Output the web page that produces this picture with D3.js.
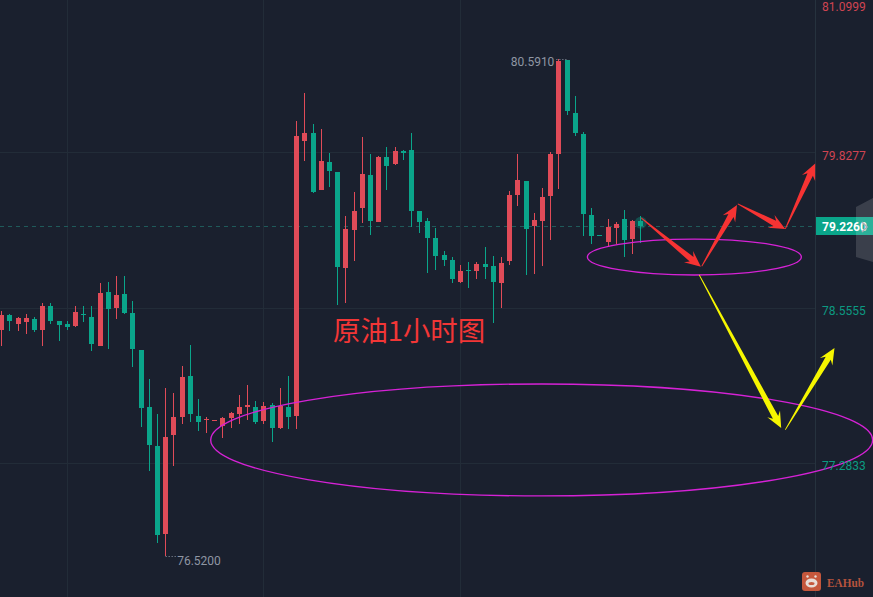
<!DOCTYPE html>
<html><head><meta charset="utf-8">
<script src="https://cdn.jsdelivr.net/npm/d3@7"></script>
<style>html,body{margin:0;padding:0;background:#1a202e;overflow:hidden}svg{display:block}</style>
</head><body><svg id="c" width="873" height="597"></svg>
<script>
const opens=[78.373,78.495,78.422,78.438,78.463,78.373,78.569,78.446,78.422,78.405,78.504,78.479,78.242,78.684,78.553,78.667,78.512,78.209,77.742,77.423,76.702,77.513,77.660,77.996,77.668,77.635,77.627,77.586,77.652,77.685,77.742,77.742,77.627,77.758,77.570,77.742,77.668,79.920,79.986,79.519,79.748,79.667,78.880,79.191,79.372,79.642,79.257,79.789,79.732,79.839,79.847,79.347,79.265,79.126,78.987,78.946,78.766,78.864,78.855,78.912,78.896,78.757,78.937,79.478,79.592,79.224,79.265,79.469,79.813,80.583,80.149,79.977,79.314,79.150,79.093,79.207,79.281,79.117,79.265];
const highs=[78.528,78.504,78.479,78.504,78.479,78.594,78.594,78.446,78.446,78.569,78.569,78.569,78.758,78.766,78.815,78.815,78.610,78.209,77.971,77.685,77.898,77.857,78.078,78.250,77.807,77.660,77.635,77.660,77.701,77.840,77.922,77.791,77.783,77.775,77.898,77.996,80.084,80.314,80.060,80.019,79.822,79.667,79.306,79.503,79.953,79.814,79.798,79.871,79.871,79.847,79.986,79.347,79.290,79.208,79.020,78.970,78.905,78.929,78.929,79.052,78.978,78.970,79.510,79.813,79.592,79.330,79.535,79.830,80.591,80.583,80.288,79.994,79.371,79.150,79.281,79.256,79.355,79.273,79.306];
const lows=[78.242,78.364,78.364,78.340,78.356,78.242,78.422,78.283,78.373,78.397,78.438,78.201,78.242,78.217,78.463,78.504,78.070,77.578,77.218,76.628,76.520,77.259,77.603,77.619,77.545,77.529,77.627,77.488,77.570,77.603,77.635,77.603,77.603,77.455,77.562,77.562,77.562,79.757,79.495,79.519,79.544,78.577,78.594,78.938,79.249,79.151,79.257,79.519,79.724,79.765,79.216,79.167,78.839,78.864,78.897,78.757,78.757,78.716,78.790,78.790,78.430,78.552,78.904,79.387,78.822,78.831,78.896,79.109,79.527,80.133,79.961,79.142,79.076,79.142,79.060,79.076,78.970,78.994,79.084];
const closes=[78.495,78.446,78.471,78.471,78.373,78.569,78.446,78.414,78.397,78.520,78.495,78.258,78.676,78.545,78.659,78.512,78.217,77.734,77.431,76.694,77.496,77.660,77.988,77.685,77.619,77.644,77.635,77.652,77.693,77.742,77.758,77.619,77.750,77.570,77.750,77.660,79.961,79.986,79.503,79.757,79.675,78.888,79.200,79.347,79.650,79.265,79.789,79.716,79.839,79.822,79.347,79.257,79.126,78.979,78.946,78.790,78.856,78.856,78.912,78.888,78.765,78.921,79.478,79.600,79.199,79.273,79.461,79.813,80.575,80.166,79.985,79.322,79.142,79.142,79.215,79.240,79.109,79.265,79.226];

const priceTicks=[81.0999,79.8277,78.5555,77.2833];
const lastPrice=79.2260;
const maxLabel=80.5910, maxIndex=68;
const minLabel=76.5200, minIndex=20;
const timeGridIndex=[8,32,56];
const titleText="原油1小时图";
const brandText="EAHub";

// annotation drawings, in [candle index, price]
const redArrows=[
 [[78.1,79.290],[85.4,78.890]],
 [[85.5,78.895],[89.8,79.396]],
 [[89.9,79.405],[95.7,79.200]],
 [[95.7,79.200],[99.35,79.735]]
];
const yellowArrows=[
 [[85.2,78.823],[95.2,77.570]],
 [[95.7,77.555],[101.7,78.225]]
];
const ellipses=[
 {cx:84.6,cy:78.970,rx:13.06,ry:0.147},
 {cx:65.96,cy:77.472,rx:40.4,ry:0.4585}
];

const W=873,H=597,axisX=815;
const red="#e04b58",green="#0aa58a";
const x=d3.scaleLinear().domain([0,78]).range([1.3,640.3]);
const y=d3.scaleLinear().domain([81.0999,77.2833]).range([-3.1,463]);
const svg=d3.select("#c");
svg.append("rect").attr("width",W).attr("height",H).attr("fill","#1a202e");

// grid
const grid=svg.append("g").attr("stroke","#222c38").attr("stroke-width",1);
grid.selectAll("line.h").data(priceTicks).join("line").attr("class","h")
 .attr("x1",0).attr("x2",axisX).attr("y1",d=>Math.round(y(d))+.5).attr("y2",d=>Math.round(y(d))+.5);
grid.selectAll("line.v").data(timeGridIndex).join("line").attr("class","v")
 .attr("x1",d=>Math.round(x(d))+.5).attr("x2",d=>Math.round(x(d))+.5).attr("y1",0).attr("y2",H);
svg.append("line").attr("x1",axisX+.5).attr("x2",axisX+.5).attr("y1",0).attr("y2",H).attr("stroke","#26323e");

// last-price dashed line
svg.append("line").attr("x1",0).attr("x2",axisX).attr("y1",Math.round(y(lastPrice))+.5).attr("y2",Math.round(y(lastPrice))+.5)
 .attr("stroke","#1f5a5a").attr("stroke-width",1).attr("stroke-dasharray","4 4");

// candles
const idx=d3.range(opens.length);
const col=i=>closes[i]>=opens[i]?red:green;
const cg=svg.append("g").attr("shape-rendering","crispEdges");
cg.selectAll("rect.w").data(idx).join("rect").attr("class","w")
 .attr("x",i=>Math.round(x(i))).attr("width",1)
 .attr("y",i=>Math.round(y(highs[i]))).attr("height",i=>Math.max(1,Math.round(y(lows[i]))-Math.round(y(highs[i]))))
 .attr("fill",col);
cg.selectAll("rect.b").data(idx).join("rect").attr("class","b")
 .attr("x",i=>Math.round(x(i))-2).attr("width",5)
 .attr("y",i=>Math.round(y(Math.max(opens[i],closes[i]))))
 .attr("height",i=>Math.max(1,Math.round(y(Math.min(opens[i],closes[i])))-Math.round(y(Math.max(opens[i],closes[i])))))
 .attr("fill",col);
svg.append("circle").attr("cx",x(78)+.5).attr("cy",y(79.250)).attr("r",6).attr("fill",green).attr("opacity",.35);

// max / min labels
const lbl=svg.append("g").attr("font-family","Roboto, sans-serif").attr("font-size",12).attr("fill","#8f96a3");
lbl.append("text").attr("x",x(maxIndex)-3).attr("y",y(maxLabel)+7).attr("text-anchor","end").attr("dx",-1).text(maxLabel.toFixed(4));
lbl.append("line").attr("x1",x(maxIndex)-2).attr("x2",x(maxIndex)+10).attr("y1",Math.round(y(maxLabel))+.5).attr("y2",Math.round(y(maxLabel))+.5)
 .attr("stroke","#8f96a3").attr("stroke-dasharray","1 2");
lbl.append("text").attr("x",x(minIndex)+12).attr("y",y(minLabel)+9).text(minLabel.toFixed(4));
lbl.append("line").attr("x1",x(minIndex)+.5).attr("x2",x(minIndex)+12).attr("y1",Math.round(y(minLabel))+.5).attr("y2",Math.round(y(minLabel))+.5)
 .attr("stroke","#8f96a3").attr("stroke-dasharray","1 2");

// ellipses
svg.selectAll("ellipse").data(ellipses).join("ellipse")
 .attr("cx",d=>x(d.cx)).attr("cy",d=>y(d.cy))
 .attr("rx",d=>x(d.rx)-x(0)).attr("ry",d=>y(0)-y(d.ry))
 .attr("fill","none").attr("stroke","#d622d6").attr("stroke-width",1.35);

// tapered arrows
function arrowPath(a,b){
 const x0=x(a[0]),y0=y(a[1]),x1=x(b[0]),y1=y(b[1]);
 const L=Math.hypot(x1-x0,y1-y0),ux=(x1-x0)/L,uy=(y1-y0)/L,nx=-uy,ny=ux;
 const hl=16,sw=3,hw=7.2,nb=12;
 const p=[[x0-nx*.4,y0-ny*.4],[x0+nx*.4,y0+ny*.4],
  [x1-ux*nb+nx*sw,y1-uy*nb+ny*sw],
  [x1-ux*hl+nx*hw,y1-uy*hl+ny*hw],
  [x1,y1],
  [x1-ux*hl-nx*hw,y1-uy*hl-ny*hw],
  [x1-ux*nb-nx*sw,y1-uy*nb-ny*sw]];
 return "M"+p.map(q=>q[0].toFixed(1)+","+q[1].toFixed(1)).join("L")+"Z";
}
svg.append("g").selectAll("path").data(redArrows).join("path").attr("d",d=>arrowPath(d[0],d[1])).attr("fill","#f63333");
svg.append("g").selectAll("path").data(yellowArrows).join("path").attr("d",d=>arrowPath(d[0],d[1])).attr("fill","#f6f600");

// title
svg.append("text").attr("x",333).attr("y",341).attr("font-family","'Noto Sans CJK SC'").attr("font-size",27.4).attr("fill","#f23636").text(titleText);

// price axis
const axis=d3.axisRight(y).tickValues(priceTicks).tickSize(0).tickPadding(0).tickFormat(d3.format(".4f"));
const ag=svg.append("g").attr("transform",`translate(822,0)`).call(axis);
ag.select(".domain").remove();
ag.selectAll(".tick").attr("transform",d=>`translate(0,${Math.max(7,y(d)+3.2)})`);
ag.selectAll("text").attr("font-family","Roboto, sans-serif").attr("font-size",12).attr("x",0).attr("dy","0.35em")
 .attr("fill",d=>d>lastPrice?"#d04452":"#0c9a82");

// last price badge
svg.append("rect").attr("x",816).attr("y",Math.round(y(lastPrice))-9).attr("width",57).attr("height",18).attr("fill",green);
svg.append("text").attr("x",822).attr("y",Math.round(y(lastPrice))+4.5).attr("font-family","Roboto, sans-serif").attr("font-size",12).attr("font-weight",700).attr("fill","#fff").text(lastPrice.toFixed(4));

// collapse handle
svg.append("path").attr("d","M873,198L856,207L856,257L873,262Z").attr("fill","#ffffff").attr("fill-opacity",.14);
svg.append("path").attr("d","M862,222L867,227L862,232").attr("fill","none").attr("stroke","#a9adb5").attr("stroke-width",1.6);

// brand
const b=svg.append("g");
b.append("rect").attr("x",802).attr("y",572).attr("width",19).attr("height",19).attr("rx",3).attr("fill","#c5573c");
b.append("ellipse").attr("cx",811.5).attr("cy",583).attr("rx",6).attr("ry",4.5).attr("fill","#e8dcd6");
b.append("circle").attr("cx",807.5).attr("cy",576.5).attr("r",1.2).attr("fill","#e8dcd6");
b.append("circle").attr("cx",815.5).attr("cy",576.5).attr("r",1.2).attr("fill","#e8dcd6");
b.append("ellipse").attr("cx",811.5).attr("cy",583.5).attr("rx",3).attr("ry",1.5).attr("fill","#c5573c");
b.append("text").attr("x",827).attr("y",587).attr("font-family","'Liberation Serif', serif").attr("font-weight",700).attr("font-size",13).attr("textLength",37).attr("lengthAdjust","spacingAndGlyphs").attr("fill","#b5533d").text(brandText);
</script></body></html>
